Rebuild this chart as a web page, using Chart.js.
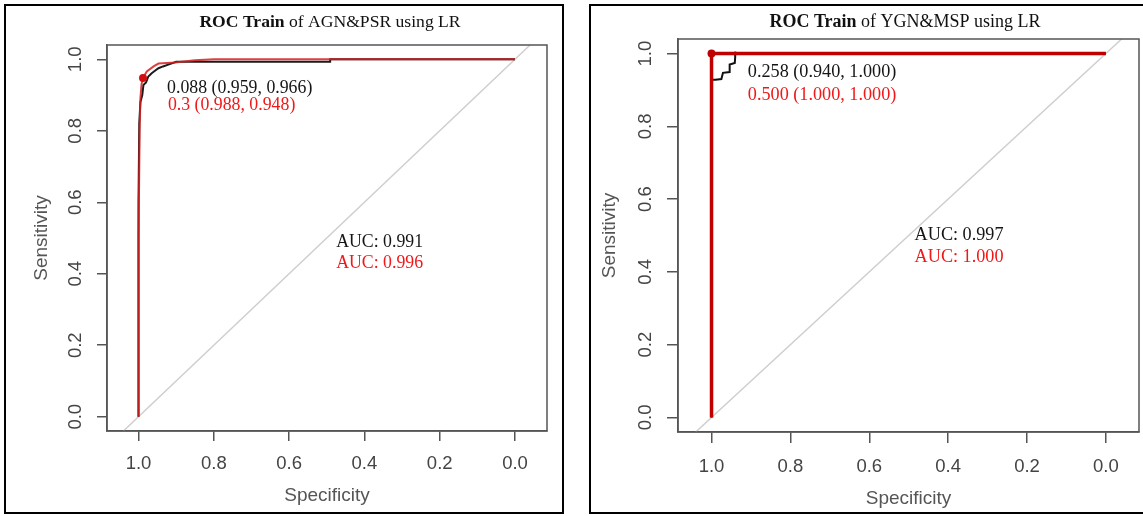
<!DOCTYPE html>
<html>
<head>
<meta charset="utf-8">
<script src="https://cdn.jsdelivr.net/npm/chart.js@4.4.1/dist/chart.umd.min.js"></script>
<style>
  body { margin: 0; background: #fff; width: 1143px; height: 516px; overflow: hidden; position: relative; }
  .panel { position: absolute; top: 4px; height: 510px; border: 2px solid #000; box-sizing: border-box; background: #fff; }
  #p1 { left: 4px; width: 560px; }
  #p2 { left: 589px; width: 560px; }
  .panel canvas { position: absolute; left: 0; top: 0; }
</style>
</head>
<body>
<div class="panel" id="p1"><canvas id="rocLeft" width="556" height="506"></canvas></div>
<div class="panel" id="p2"><canvas id="rocRight" width="556" height="506"></canvas></div>

<script>
// akselien jaot (R:n pROC-tyyli)
const tickVals = [0, 0.2, 0.4, 0.6, 0.8, 1.0];

// vasen: AGN&PSR, musta käyrä
const agnBlackSpec = [1, 1, 0.998, 0.995, 0.99, 0.987, 0.98, 0.974, 0.965, 0.959, 0.947, 0.935, 0.921, 0.9, 0.491, 0.491, 0];
const agnBlackSens = [0, 0.6, 0.82, 0.88, 0.9, 0.928, 0.935, 0.952, 0.961, 0.966, 0.975, 0.98, 0.985, 0.993, 0.993, 1, 1];
// vasen: punainen käyrä
const agnRedSpec = [1, 1, 0.997, 0.995, 0.992, 0.988, 0.978, 0.96, 0.947, 0.903, 0.85, 0.8, 0];
const agnRedSens = [0, 0.5, 0.8, 0.89, 0.93, 0.948, 0.966, 0.98, 0.988, 0.991, 0.997, 1, 1];
const agnRedThr = [0.988, 0.948];

// oikea: YGN&MSP
const ygnBlackSpec = [1, 1, 0.99, 0.975, 0.971, 0.954, 0.954, 0.941, 0.94, 0.94, 0];
const ygnBlackSens = [0, 0.928, 0.928, 0.93, 0.947, 0.949, 0.97, 0.974, 0.99, 1, 1];
const ygnRedSpec = [1, 1, 0];
const ygnRedSens = [0, 1, 1];
const ygnBlackThr = [0.94, 1.0];
const ygnRedThr = [1.0, 1.0];

// diagonaali (sattuma)
const diagSpec = [1.04, -0.04];
const diagSens = [-0.04, 1.04];

const toPts = (xs, ys) => xs.map((x, i) => ({ x: x, y: ys[i] }));

// otsikko + tekstit kaavion päälle
const rocTextPlugin = {
  id: 'rocText',
  afterDraw(chart, args, opts) {
    const ctx = chart.ctx;
    const { left, top, right, bottom } = chart.chartArea;
    const serif = '"Liberation Serif", "Times New Roman", serif';
    ctx.save();
    // kehys
    ctx.strokeStyle = '#555';
    ctx.lineWidth = 1.5;
    ctx.strokeRect(left, top, right - left, bottom - top);

    // otsikko: lihavoitu alku + normaali loppu
    ctx.textBaseline = 'middle';
    ctx.fillStyle = '#111';
    const boldFont = 'bold ' + opts.titleSize + 'px ' + serif;
    const normFont = opts.titleSize + 'px ' + serif;
    ctx.font = boldFont;
    const w1 = ctx.measureText(opts.titleBold).width;
    ctx.font = normFont;
    const w2 = ctx.measureText(opts.titleRest).width;
    let x0 = opts.titleX - (w1 + w2) / 2;
    ctx.textAlign = 'left';
    ctx.font = boldFont;
    ctx.fillText(opts.titleBold, x0, opts.titleY);
    ctx.font = normFont;
    ctx.fillText(opts.titleRest, x0 + w1, opts.titleY);

    // tekstit datakoordinaateissa
    const xs = chart.scales.x, ys = chart.scales.y;
    ctx.font = opts.textSize + 'px ' + serif;
    opts.labels.forEach(l => {
      ctx.fillStyle = l.color;
      ctx.fillText(l.text, xs.getPixelForValue(l.x), ys.getPixelForValue(l.y));
    });
    ctx.restore();
  }
};

function makeRoc(canvasId, cfg) {
  const sansTick = { family: '"Liberation Sans", Arial, Helvetica, sans-serif', size: 18.5 };
  const sansTitle = { family: '"Liberation Sans", Arial, Helvetica, sans-serif', size: 19 };
  return new Chart(document.getElementById(canvasId), {
    type: 'scatter',
    data: { datasets: cfg.datasets },
    options: {
      responsive: false,
      animation: false,
      devicePixelRatio: 1,
      layout: { padding: { left: 0, right: cfg.padRight, top: cfg.padTop, bottom: 0 } },
      plugins: {
        legend: { display: false },
        tooltip: { enabled: false },
        rocText: cfg.text
      },
      scales: {
        x: {
          type: 'linear',
          reverse: true,
          min: cfg.xMin, max: cfg.xMax,
          afterBuildTicks: s => { s.ticks = tickVals.map(v => ({ value: v })); },
          afterFit: s => { s.height = cfg.xHeight; },
          ticks: { color: '#444', font: sansTick, padding: cfg.xTickPad, callback: v => Number(v).toFixed(1), maxRotation: 0, minRotation: 0 },
          grid: { drawOnChartArea: false, drawTicks: true, tickLength: cfg.tickLen, color: '#555', lineWidth: 1.5 },
          border: { display: true, color: '#555', width: 1.5 },
          title: { display: true, text: 'Specificity', color: '#555', font: sansTitle, padding: { top: 0, bottom: cfg.xTitlePad } }
        },
        y: {
          type: 'linear',
          min: -0.04, max: 1.04,
          afterBuildTicks: s => { s.ticks = tickVals.map(v => ({ value: v })); },
          afterFit: s => { s.width = cfg.yWidth; },
          ticks: { color: '#444', font: sansTick, padding: cfg.yTickPad, crossAlign: 'center', minRotation: 90, maxRotation: 90, callback: v => Number(v).toFixed(1) },
          grid: { drawOnChartArea: false, drawTicks: true, tickLength: cfg.tickLen, color: '#555', lineWidth: 1.5 },
          border: { display: true, color: '#555', width: 1.5 },
          title: { display: true, text: 'Sensitivity', color: '#555', font: sansTitle, padding: { top: cfg.yTitlePad, bottom: 0 } }
        }
      }
    },
    plugins: [rocTextPlugin]
  });
}

const lineDs = (data, color, width) => ({
  data: data, showLine: true, borderColor: color, borderWidth: width,
  pointRadius: 0, tension: 0, fill: false
});
const dotDs = (data, color, r) => ({
  data: data, showLine: false, pointRadius: r, pointBackgroundColor: color,
  pointBorderColor: color, pointBorderWidth: 0
});

// vasen paneeli
makeRoc('rocLeft', {
  xMin: -0.085, xMax: 1.0837,
  padRight: 15, padTop: 39, xHeight: 81, yWidth: 101,
  tickLen: 10, xTickPad: 12, yTickPad: 8, xTitlePad: 5, yTitlePad: 24,
  datasets: [
    dotDs([{ x: agnRedThr[0], y: agnRedThr[1] }], '#d01010', 4),
    lineDs(toPts(agnRedSpec, agnRedSens), 'rgba(215,30,30,0.85)', 2),
    lineDs(toPts(agnBlackSpec, agnBlackSens), '#1a1a1a', 2),
    lineDs(toPts(diagSpec, diagSens), '#cfcfcf', 1.5)
  ],
  text: {
    titleBold: 'ROC Train', titleRest: ' of AGN&PSR using LR', titleX: 324, titleY: 16, titleSize: 17.6, textSize: 17.8,
    labels: [
      { text: '0.088 (0.959, 0.966)', x: 0.924, y: 0.92, color: '#151515' },
      { text: '0.3 (0.988, 0.948)', x: 0.922, y: 0.872, color: '#f01818' },
      { text: 'AUC: 0.991', x: 0.475, y: 0.488, color: '#151515' },
      { text: 'AUC: 0.996', x: 0.475, y: 0.429, color: '#f01818' }
    ]
  }
});

// oikea paneeli
makeRoc('rocRight', {
  xMin: -0.084, xMax: 1.085,
  padRight: 8, padTop: 33, xHeight: 80, yWidth: 87,
  tickLen: 11, xTickPad: 13, yTickPad: 8, xTitlePad: 2, yTitlePad: 7.5,
  datasets: [
    dotDs([{ x: ygnRedThr[0], y: ygnRedThr[1] }], '#c00000', 4),
    lineDs(toPts(ygnRedSpec, ygnRedSens), '#c00000', 3.5),
    dotDs([{ x: ygnBlackThr[0], y: ygnBlackThr[1] }], '#111', 2),
    lineDs(toPts(ygnBlackSpec, ygnBlackSens), '#111', 2),
    lineDs(toPts(diagSpec, diagSens), '#cfcfcf', 1.5)
  ],
  text: {
    titleBold: 'ROC Train', titleRest: ' of YGN&MSP using LR', titleX: 314, titleY: 16, titleSize: 18, textSize: 18.2,
    labels: [
      { text: '0.258 (0.940, 1.000)', x: 0.908, y: 0.95, color: '#151515' },
      { text: '0.500 (1.000, 1.000)', x: 0.908, y: 0.885, color: '#f01818' },
      { text: 'AUC: 0.997', x: 0.485, y: 0.4995, color: '#151515' },
      { text: 'AUC: 1.000', x: 0.485, y: 0.439, color: '#f01818' }
    ]
  }
});
</script>
</body>
</html>
